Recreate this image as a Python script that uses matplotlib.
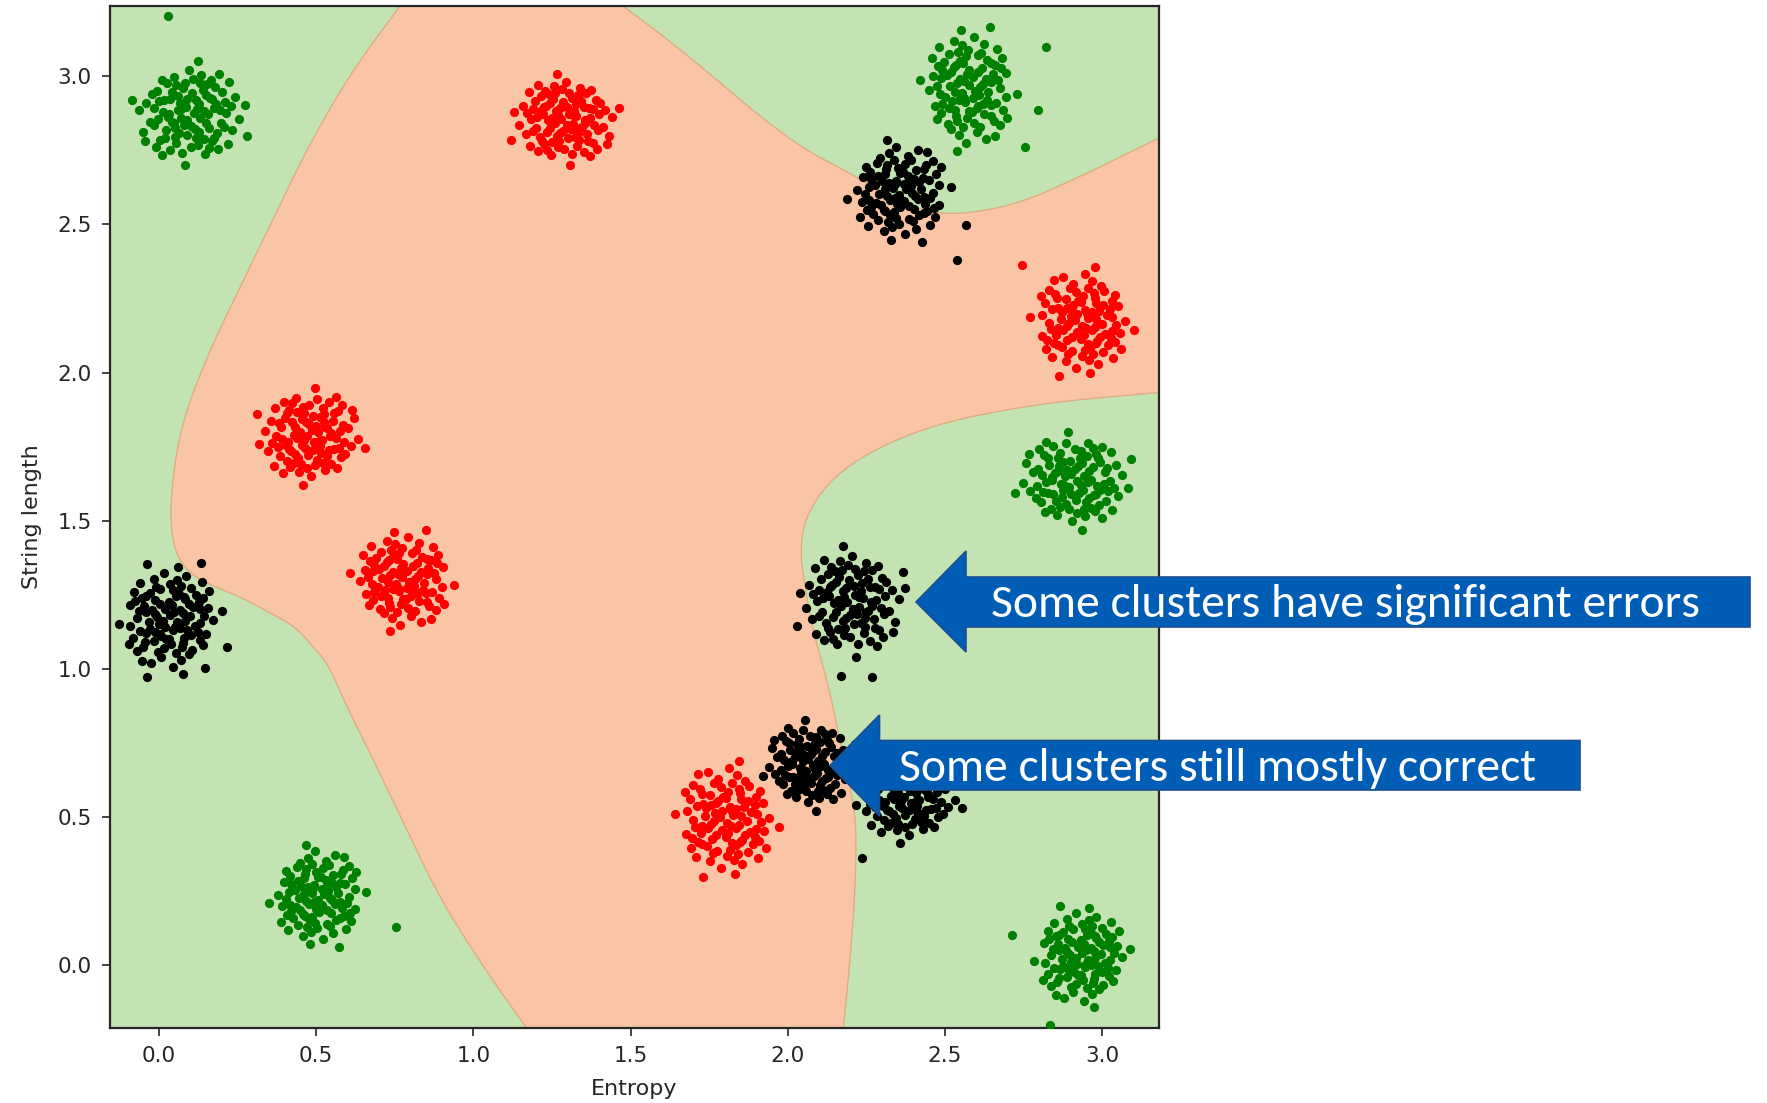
import matplotlib
matplotlib.use("Agg")
import matplotlib.pyplot as plt
from matplotlib.patches import Polygon
import numpy as np

# ---------------- data ----------------
x_ticks = [0.0, 0.5, 1.0, 1.5, 2.0, 2.5, 3.0]
y_ticks = [0.0, 0.5, 1.0, 1.5, 2.0, 2.5, 3.0]
x_label = "Entropy"
y_label = "String length"

# salmon decision region outline (data coordinates)
salmon_x = [0.81, 1.397, 1.476, 1.617, 1.763, 1.909, 2.055, 2.183, 2.322, 2.444, 2.566,
            2.736, 2.919, 3.175, 3.25, 3.25, 3.175, 2.858, 2.615, 2.432, 2.250, 2.128,
            2.055, 2.040, 2.049, 2.079, 2.128, 2.164, 2.201, 2.219, 2.213, 2.195, 2.177,
            2.169, 1.227, 1.168, 1.040, 0.894, 0.785, 0.675, 0.590, 0.541, 0.493, 0.432,
            0.347, 0.261, 0.176, 0.109, 0.067, 0.042, 0.036, 0.067, 0.152, 0.261, 0.371,
            0.481, 0.614, 0.767]
salmon_y = [3.30, 3.30, 3.238, 3.126, 2.999, 2.867, 2.752, 2.682, 2.595, 2.541, 2.535,
            2.571, 2.656, 2.789, 2.828, 1.939, 1.932, 1.902, 1.860, 1.811, 1.727, 1.630,
            1.510, 1.400, 1.313, 1.131, 0.949, 0.767, 0.585, 0.464, 0.222, -0.021, -0.212,
            -0.30, -0.30, -0.212, -0.021, 0.222, 0.464, 0.707, 0.888, 1.010, 1.071, 1.143,
            1.192, 1.241, 1.277, 1.313, 1.362, 1.434, 1.570, 1.811, 2.053, 2.294, 2.535,
            2.776, 3.018, 3.238]

# clusters: centre, spread, colour
cluster_cx = [0.10, 2.58, 2.91, 0.51, 2.93,
              1.29, 2.93, 0.48, 0.78, 1.80,
              2.36, 0.03, 2.20, 2.07, 2.38]
cluster_cy = [2.87, 2.96, 1.64, 0.23, 0.03,
              2.85, 2.17, 1.79, 1.30, 0.49,
              2.61, 1.17, 1.22, 0.68, 0.57]
cluster_sx = [0.075, 0.07, 0.075, 0.07, 0.07,
              0.07, 0.075, 0.07, 0.075, 0.075,
              0.075, 0.075, 0.07, 0.06, 0.07]
cluster_sy = [0.08, 0.085, 0.075, 0.07, 0.07,
              0.07, 0.075, 0.075, 0.07, 0.08,
              0.07, 0.075, 0.085, 0.07, 0.07]
cluster_color = ["green", "green", "green", "green", "green",
                 "red", "red", "red", "red", "red",
                 "black", "black", "black", "black", "black"]

# typed scatter pattern (offsets in units of cluster spread)
pattern_dx = [0.85, -1.10, 0.31, -0.66, 1.42, -0.22, 0.58, -1.53, 1.05, -0.40,
              0.19, -0.97, 1.71, -1.28, 0.47, 0.93, -0.12, -1.86, 0.66, -0.51,
              1.27, 0.08, -0.79, 1.58, -0.34, 0.37, -1.41, 0.94, -0.63, 2.05,
              -0.07, 1.12, -1.17, 0.26, -2.02, 0.72, -0.45, 1.36, -0.88, 0.15,
              0.61, -1.62, 1.89, -0.28, 0.99, -1.04, 0.43, -0.71, 1.19, -0.16,
              0.52, -1.36, 0.81, -0.54, 1.63, -1.91, 0.03, -0.87, 0.74, -0.33,
              1.45, -1.22, 0.22, -0.59, 1.02, -1.55, 0.35, -0.19, 2.31, -0.95,
              0.11, -1.47, 0.89, -0.38, 1.31, -0.77, 0.56, -2.18, 0.28, -1.09,
              1.77, -0.24, 0.65, -1.31, 1.09, -0.48, 0.41, -0.92, 1.21, -1.73,
              0.05, -0.61, 1.53, -1.18, 0.79, -0.13, 2.42, -0.69, 0.33, -2.49]
pattern_dy = [0.72, 0.64, -1.25, -0.93, -0.51, 1.36, 0.15, -0.44, 1.18, 0.27,
              -0.58, 1.33, 0.38, -1.07, 1.67, -1.12, -0.21, 0.52, -0.36, 0.81,
              0.21, 0.93, -0.29, -1.21, -1.61, 0.48, 1.02, 0.66, -0.57, -0.18,
              1.88, -0.77, 0.13, -0.96, -0.73, 1.29, 0.49, 0.98, -1.48, 0.07,
              -1.63, 0.87, 0.74, -0.41, 0.31, -0.62, -0.12, 1.61, -1.45, -0.83,
              1.05, -0.18, -0.55, 0.22, 1.41, -1.12, -1.34, 0.67, 0.03, 1.12,
              0.55, 1.49, 0.61, -1.19, -0.96, 0.31, -0.71, 0.35, 0.42, -0.09,
              1.52, -1.34, 1.46, -0.13, -0.34, 0.98, -1.02, 0.19, 0.26, -0.97,
              -0.62, -2.11, 0.86, 0.58, 0.47, -0.78, 1.34, 0.04, 1.74, -0.31,
              -0.47, 1.27, 0.08, -1.68, -1.41, 0.69, -0.91, -0.36, 2.28, 0.61]
# how each cluster reuses the pattern: (flip x, flip y, swap axes)
cluster_variant = [(1, 1, 0), (-1, 1, 1), (1, -1, 0), (-1, -1, 1), (1, 1, 1),
                   (-1, 1, 0), (1, -1, 1), (-1, -1, 0), (-1, 1, 1), (1, -1, 1),
                   (-1, -1, 1), (1, 1, 1), (-1, 1, 0), (1, -1, 0), (-1, -1, 0)]

# stray points
extra_x = [0.030, 2.822, 2.796, 2.755, 0.754, 2.712, 2.834,
           2.746,
           2.538, 2.566, 0.134, -0.037, 0.148, 0.216, 2.17, 2.268, 2.365, 2.237]
extra_y = [3.205, 3.099, 2.886, 2.762, 0.128, 0.100, -0.205,
           2.364,
           2.381, 2.499, 1.358, 0.970, 1.001, 1.073, 0.976, 0.970, 1.325, 0.359]
extra_color = ["green"] * 7 + ["red"] + ["black"] * 10

note_texts = ["Some clusters have significant errors", "Some clusters still mostly correct"]

# ---------------- style ----------------
GREEN_BG = "#C3E3B3"
SALMON = "#F9C5A5"
EDGE = "#DDAE80"
BLUE = "#005DB6"
BLUE_EDGE = "#1D4F8F"
INK = "#262626"
DOT = 44

W, H = 1767, 1103
fig = plt.figure(figsize=(W / 100, H / 100), dpi=100)
ax = fig.add_axes([109.5 / W, 1 - 1027.5 / H, 1049 / W, 1021.5 / H])
ax.set_xlim(-0.157, 3.179)
ax.set_ylim(-0.2125, 3.238)
ax.set_facecolor(GREEN_BG)


def smooth_closed(xs, ys, n_iter=3):
    # Chaikin corner cutting, only to round the drawn outline
    p = np.column_stack([xs, ys])
    for _ in range(n_iter):
        q = np.roll(p, -1, axis=0)
        a = 0.75 * p + 0.25 * q
        b = 0.25 * p + 0.75 * q
        p = np.empty((2 * len(a), 2))
        p[0::2] = a
        p[1::2] = b
    return p[:, 0], p[:, 1]


sx_, sy_ = smooth_closed(salmon_x, salmon_y)
ax.fill(sx_, sy_, facecolor=SALMON, edgecolor=EDGE, linewidth=1.0, zorder=1)

px = np.array(pattern_dx)
py = np.array(pattern_dy)
for cx, cy, sx, sy, col, (fx, fy, sw) in zip(cluster_cx, cluster_cy, cluster_sx, cluster_sy,
                                              cluster_color, cluster_variant):
    ox, oy = (py, px) if sw else (px, py)
    ax.scatter(cx + fx * ox * sx, cy + fy * oy * sy, s=DOT, c=col, linewidths=0, zorder=3)
for ex, ey, ec in zip(extra_x, extra_y, extra_color):
    ax.scatter([ex], [ey], s=DOT, c=ec, linewidths=0, zorder=3)

ax.set_xticks(x_ticks)
ax.set_yticks(y_ticks)
ax.set_xticklabels([f"{v:.1f}" for v in x_ticks])
ax.set_yticklabels([f"{v:.1f}" for v in y_ticks])
ax.tick_params(axis="both", labelsize=15.5, length=5.5, width=1.2, pad=7.5,
               colors=INK, labelcolor=INK)
for sp in ax.spines.values():
    sp.set_linewidth(1.6)
    sp.set_color(INK)
ax.set_xlabel(x_label, fontsize=16, color=INK, labelpad=10)
ax.set_ylabel(y_label, fontsize=16, color=INK, labelpad=11)


def fig_pt(x, y):
    return (x / W, 1 - y / H)


arrows = [
    [(916, 602), (966, 551), (966, 577), (1750, 577), (1750, 627), (966, 627), (966, 652)],
    [(830, 765.5), (879.5, 715), (879.5, 740.5), (1580, 740.5), (1580, 790),
     (879.5, 790), (879.5, 816)],
]
for pts in arrows:
    poly = Polygon([fig_pt(x, y) for x, y in pts], closed=True, transform=fig.transFigure,
                   facecolor=BLUE, edgecolor=BLUE_EDGE, linewidth=1.2, zorder=10)
    fig.add_artist(poly)

text_left = [991, 899]
text_base = [617, 781]
target_w = 709
fam = ["Carlito", "Lato", "DejaVu Sans"]
t0 = fig.text(0, 0, note_texts[0], fontsize=30, family=fam)
renderer = fig.canvas.get_renderer()
w0 = t0.get_window_extent(renderer).width
fs = 30 * target_w / w0
t0.remove()
for txt, xl, yb in zip(note_texts, text_left, text_base):
    fig.text(xl / W, 1 - yb / H, txt, fontsize=fs, family=fam, color="white",
             ha="left", va="baseline", zorder=11)

fig.savefig("out.png", dpi=100)
